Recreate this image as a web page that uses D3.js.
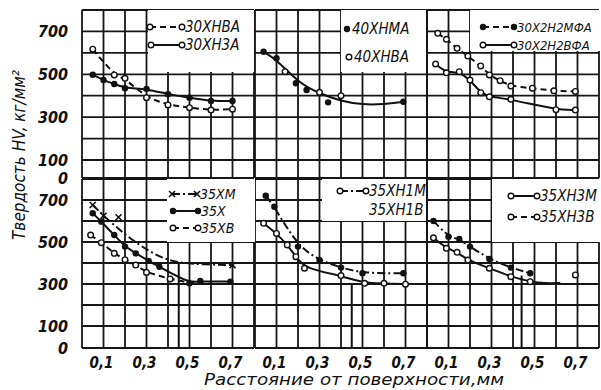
<!DOCTYPE html>
<html>
<head>
<meta charset="utf-8">
<script src="https://cdn.jsdelivr.net/npm/d3@7/dist/d3.min.js"></script>
<style>
  body { margin: 0; background: #fff; }
  text { font-family: "Liberation Sans Narrow", "DejaVu Sans Condensed", sans-serif; font-style: italic; fill: #111; }
</style>
</head>
<body>
<svg id="chart"></svg>
<script>
// tick values / labels
const xTickValues = [0.1, 0.3, 0.5, 0.7];
const xTickLabels = ["0,1", "0,3", "0,5", "0,7"];
const yTickValues = [700, 500, 300, 100, 0];

// hardness HV vs distance from surface (mm)
const s30XNVA = [[0.05,617],[0.15,497],[0.2,481],[0.3,391],[0.4,357],[0.5,344],[0.6,333],[0.7,337]];
const s30XN3A = [[0.05,498],[0.1,473],[0.15,455],[0.2,435],[0.3,432],[0.4,407],[0.5,391],[0.6,375],[0.7,375]];

const s40XNMA = [[0.04,605],[0.1,575],[0.19,458],[0.24,427],[0.34,369],[0.69,372]];
const s40XNVA = [[0.14,512],[0.3,416],[0.4,400]];
const fit40XN = [[0.04,605],[0.1,570],[0.2,462],[0.3,410],[0.4,375],[0.5,358],[0.6,360],[0.69,372]];

const s30X2N2MFA = [[0.05,691],[0.09,663],[0.14,621],[0.19,585],[0.25,539],[0.29,497],[0.34,470],[0.39,445],[0.49,435],[0.59,423],[0.69,420]];
const s30X2N2VFA = [[0.04,548],[0.09,507],[0.15,512],[0.2,473],[0.25,414],[0.29,395],[0.39,383],[0.6,335],[0.69,333]];

const s35XM = [[0.05,676],[0.1,625],[0.17,618],[0.7,390]];
const fit35XM = [[0.05,676],[0.1,625],[0.2,535],[0.3,462],[0.4,410],[0.5,395],[0.7,390]];
const s35X = [[0.05,637],[0.09,597],[0.15,533],[0.2,478],[0.25,446],[0.31,410],[0.36,382],[0.5,303],[0.55,314],[0.69,311]];
const s35XV = [[0.04,533],[0.09,497],[0.15,446],[0.2,416],[0.25,390],[0.3,355],[0.41,324]];
const tail35XV = [[0.5,305],[0.6,300],[0.7,300]];

const s35XN1M = [[0.05,720],[0.09,668],[0.2,478],[0.3,414],[0.4,378],[0.5,351],[0.69,351]];
const s35XN1V = [[0.04,589],[0.1,541],[0.15,486],[0.19,430],[0.23,375],[0.4,340],[0.51,303],[0.6,303],[0.7,299]];

const s35XN3M = [[0.03,600],[0.1,525],[0.15,514],[0.2,478],[0.29,419],[0.39,378],[0.48,351]];
const s35XN3V = [[0.03,520],[0.09,470],[0.14,451],[0.19,414],[0.29,375],[0.39,335],[0.48,311],[0.69,343]];
const tail35XN3V = [[0.55,303],[0.62,305]];

// depth marks (vertical lines down to 0): panel index, x, top value
const depthMarks = [[3, 0.45, 400], [4, 0.45, 300], [5, 0.44, 340]];

const W = 601, H = 390;
const panelLeft = [82, 255, 427], panelW = 172;
const rowY = [
  d3.scaleLinear().domain([0, 100, 800]).range([178, 160, 10]),
  d3.scaleLinear().domain([0, 100, 800]).range([348, 326, 179])
];
const DASH = "6,4", DASHDOT = "8,3,2,3";

const panels = [
  { row: 0, col: 0, box: [148, 10, 254, 72],
    series: [
      { pts: s30XNVA, dash: DASH, mark: "open" },
      { pts: s30XN3A, dash: null, mark: "filled" }
    ],
    legend: [
      { x1: 150, x2: 182, y: 27, dash: DASH, mark: "open", text: "30ХНВА", fs: 15 },
      { x1: 151, x2: 182, y: 45, dash: null, mark: "open", text: "30ХН3А", fs: 15 }
    ] },
  { row: 0, col: 1, box: [341, 10, 426, 72],
    series: [
      { pts: s40XNMA, line: fit40XN, dash: null, mark: "filled" },
      { pts: s40XNVA, line: [], mark: "open" }
    ],
    legend: [
      { x1: 347, y: 29, mark: "filled", text: "40ХНМА", fs: 15 },
      { x1: 349, y: 57, mark: "open", text: "40ХНВА", fs: 15 }
    ] },
  { row: 0, col: 2, box: [470, 10, 601, 51],
    series: [
      { pts: s30X2N2MFA, dash: DASH, mark: "open" },
      { pts: s30X2N2VFA, dash: null, mark: "open" }
    ],
    legend: [
      { x1: 483, x2: 514, y: 27, dash: DASH, mark: "filled", text: "30Х2Н2МФА", fs: 13 },
      { x1: 483, x2: 514, y: 45, dash: null, mark: "open", text: "30Х2Н2ВФА", fs: 13 }
    ] },
  { row: 1, col: 0, box: [167, 179, 255, 242],
    series: [
      { pts: s35XM, line: fit35XM, dash: DASHDOT, mark: "cross" },
      { pts: s35X, dash: null, mark: "filled" },
      { pts: s35XV, line: s35XV.concat(tail35XV), dash: DASH, mark: "open" }
    ],
    legend: [
      { x1: 172, x2: 197, y: 194, dash: DASHDOT, mark: "cross", text: "35ХМ", fs: 14 },
      { x1: 173, x2: 198, y: 211, dash: null, mark: "filled", text: "35Х", fs: 14 },
      { x1: 173, x2: 198, y: 228, dash: DASH, mark: "open", text: "35ХВ", fs: 14 }
    ] },
  { row: 1, col: 1, box: [322, 179, 426, 221],
    series: [
      { pts: s35XN1M, dash: DASHDOT, mark: "filled" },
      { pts: s35XN1V, dash: null, mark: "open" }
    ],
    legend: [
      { x1: 340, x2: 366, y: 191, dash: DASHDOT, mark: "open", text: "35ХН1М", fs: 15 },
      { x1: null, y: 210, text: "35ХН1В", tx: 369, fs: 15 }
    ] },
  { row: 1, col: 2, box: [492, 179, 601, 242],
    series: [
      { pts: s35XN3M, dash: DASHDOT, mark: "filled" },
      { pts: s35XN3V, line: s35XN3V.slice(0, 7).concat(tail35XN3V), dash: null, mark: "open" }
    ],
    legend: [
      { x1: 511, x2: 537, y: 196, dash: null, mark: "open", text: "35ХН3М", fs: 15 },
      { x1: 511, x2: 537, y: 217, dash: DASH, mark: "open", text: "35ХН3В", fs: 15 }
    ] }
];

const svg = d3.select("#chart").attr("width", W).attr("height", H);
svg.append("rect").attr("width", W).attr("height", H).attr("fill", "#fff");

function xScaleFor(col) {
  return d3.scaleLinear().domain([0, 0.8]).range([panelLeft[col], panelLeft[col] + panelW]);
}

// grid of every panel
function drawGrid(p) {
  var x = xScaleFor(p.col), y = rowY[p.row];
  var g = svg.append("g").attr("stroke", "#161616").attr("stroke-width", 1.8);
  g.selectAll("line.v").data(d3.range(0, 9).map(d => d / 10)).enter()
    .append("line")
    .attr("x1", d => x(d)).attr("x2", d => x(d))
    .attr("y1", y(0)).attr("y2", y(800));
  g.selectAll("line.h").data(d3.range(0, 9).map(d => d * 100)).enter()
    .append("line")
    .attr("x1", x(0)).attr("x2", x(0.8))
    .attr("y1", d => y(d)).attr("y2", d => y(d));
}

function drawMark(g, type, cx, cy) {
  if (type == "cross") {
    g.append("path")
      .attr("d", `M${cx - 3},${cy - 3}L${cx + 3},${cy + 3}M${cx - 3},${cy + 3}L${cx + 3},${cy - 3}`)
      .attr("stroke", "#111").attr("stroke-width", 1.6);
  } else if (type == "filled") {
    g.append("circle").attr("cx", cx).attr("cy", cy).attr("r", 3.2).attr("fill", "#111");
  } else if (type == "open") {
    g.append("circle").attr("cx", cx).attr("cy", cy).attr("r", 2.8)
      .attr("fill", "#fff").attr("stroke", "#111").attr("stroke-width", 1.4);
  }
}

function drawSeries(p) {
  var x = xScaleFor(p.col), y = rowY[p.row];
  var line = d3.line().x(d => x(d[0])).y(d => y(d[1])).curve(d3.curveBasis);
  var g = svg.append("g");
  p.series.forEach(function(s) {
    var lp = s.line || s.pts;
    if (lp.length > 1) {
      g.append("path").attr("d", line(lp))
        .attr("fill", "none").attr("stroke", "#111").attr("stroke-width", 2)
        .attr("stroke-dasharray", s.dash);
    }
  });
  p.series.forEach(function(s) {
    s.pts.forEach(d => drawMark(g, s.mark, x(d[0]), y(d[1])));
  });
}

function drawLegend(p) {
  var b = p.box;
  svg.append("rect").attr("x", b[0]).attr("y", b[1])
    .attr("width", b[2] - b[0]).attr("height", b[3] - b[1]).attr("fill", "#fff");
  var g = svg.append("g");
  p.legend.forEach(function(l) {
    var tx = l.tx;
    if (l.x2) {
      g.append("line").attr("x1", l.x1).attr("x2", l.x2).attr("y1", l.y).attr("y2", l.y)
        .attr("stroke", "#111").attr("stroke-width", 2).attr("stroke-dasharray", l.dash);
      drawMark(g, l.mark, l.x1, l.y);
      drawMark(g, l.mark, l.x2, l.y);
      tx = l.x2 + 3;
    } else if (l.x1) {
      drawMark(g, l.mark, l.x1, l.y);
      tx = l.x1 + 5;
    }
    g.append("text").attr("x", tx).attr("y", l.y).attr("dy", "0.35em")
      .attr("font-size", l.fs).text(l.text);
  });
}

function drawAxes() {
  // y tick labels for both rows
  rowY.forEach(function(y) {
    svg.append("g").selectAll("text").data(yTickValues).enter()
      .append("text")
      .attr("x", 68).attr("y", d => y(d)).attr("dy", "0.35em")
      .attr("text-anchor", "end").attr("font-size", 16).attr("font-weight", "bold")
      .text(d => d);
  });
  // x tick labels under bottom row
  [0, 1, 2].forEach(function(col) {
    var x = xScaleFor(col);
    svg.append("g").selectAll("text").data(xTickValues).enter()
      .append("text")
      .attr("x", d => x(d) - 2).attr("y", 363).attr("dy", "0.35em")
      .attr("text-anchor", "middle").attr("font-size", 15).attr("font-weight", "bold")
      .text((d, i) => xTickLabels[i]);
  });
  svg.append("text")
    .attr("x", 354).attr("y", 380).attr("dy", "0.35em")
    .attr("text-anchor", "middle").attr("font-size", 15)
    .attr("textLength", 300).attr("lengthAdjust", "spacingAndGlyphs")
    .text("Расстояние от поверхности,мм");
  svg.append("text")
    .attr("transform", "translate(19,155) rotate(-90)").attr("dy", "0.35em")
    .attr("text-anchor", "middle").attr("font-size", 17)
    .text("Твердость HV, кг/мм²");
}

function drawDepthMarks() {
  depthMarks.forEach(function(m) {
    var p = panels[m[0]], x = xScaleFor(p.col), y = rowY[p.row];
    svg.append("line")
      .attr("x1", x(m[1])).attr("x2", x(m[1]))
      .attr("y1", y(m[2])).attr("y2", y(0))
      .attr("stroke", "#111").attr("stroke-width", 2);
  });
}

panels.forEach(drawGrid);
panels.forEach(drawLegend);
drawDepthMarks();
panels.forEach(drawSeries);
drawAxes();
</script>
</body>
</html>
